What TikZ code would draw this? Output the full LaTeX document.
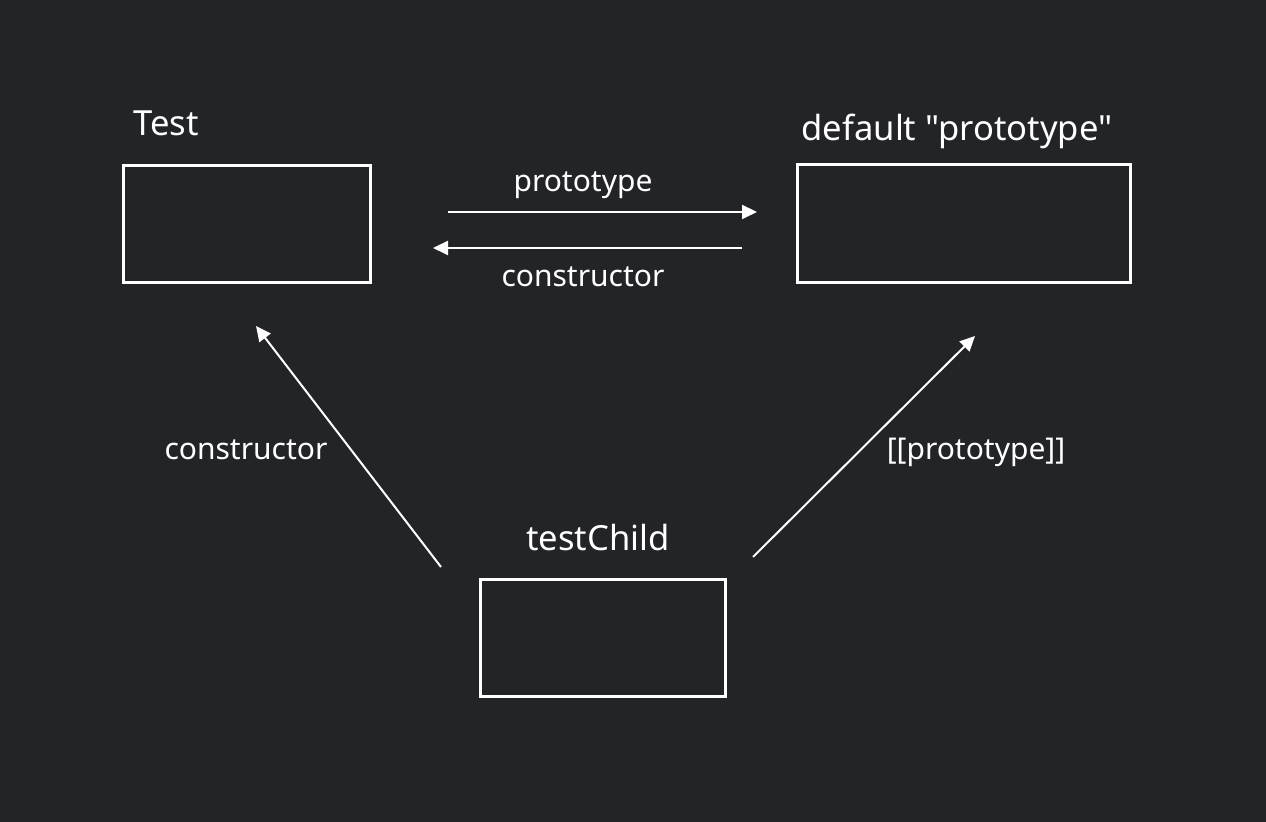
\documentclass[tikz,border=0pt]{standalone}
\usepackage{fontspec}
\setmainfont{Noto Sans}[Ligatures=TeXOff]
\usetikzlibrary{arrows.meta}
\definecolor{bg}{HTML}{232428}
\begin{document}
\begin{tikzpicture}[x=0.5pt,y=-0.5pt,
  box/.style={draw=white,line width=1.5pt,inner sep=0pt},
  title/.style={text=white,font=\fontsize{17.3}{19}\selectfont,inner sep=0pt,anchor=base},
  lbl/.style={text=white,font=\fontsize{15}{17}\selectfont,inner sep=0pt,anchor=base},
  arr/.style={draw=white,line width=1pt,-{Triangle[length=7.5pt,width=7pt]}}]
\fill[bg] (0,0) rectangle (1266,822);
\useasboundingbox (0,0) rectangle (1266,822);
% boxes
\node[box,minimum width=123.5pt,minimum height=58.5pt] (test) at (246.5,224.5) {};
\node[box,minimum width=166.5pt,minimum height=59pt] (def) at (963.5,224) {};
\node[box,minimum width=122.5pt,minimum height=58.5pt] (child) at (602.5,638.5) {};
% titles
\node[title] (ttest) at (166,136) {Test};
\node[title] (tdef) at (957,141) {default "prototype"};
\node[title] (tchild) at (598,551) {testChild};
% arrow endpoints
\coordinate (p1) at (448,212);
\coordinate (p2) at (757,212);
\coordinate (c1) at (742,248);
\coordinate (c2) at (433,248);
\coordinate (l1) at (441,567);
\coordinate (l2) at (256,326);
\coordinate (r1) at (753,557);
\coordinate (r2) at (975,336);
\draw[arr] (p1) -- (p2);
\draw[arr] (c1) -- (c2);
\draw[arr] (l1) -- (l2);
\draw[arr] (r1) -- (r2);
% labels
\node[lbl] (lproto) at (583,192) {prototype};
\node[lbl] (lcons) at (583,287) {constructor};
\node[lbl] (lcons2) at (246,460) {constructor};
\node[lbl] (lpp) at (976,460) {[[prototype]]};
\end{tikzpicture}
\end{document}
